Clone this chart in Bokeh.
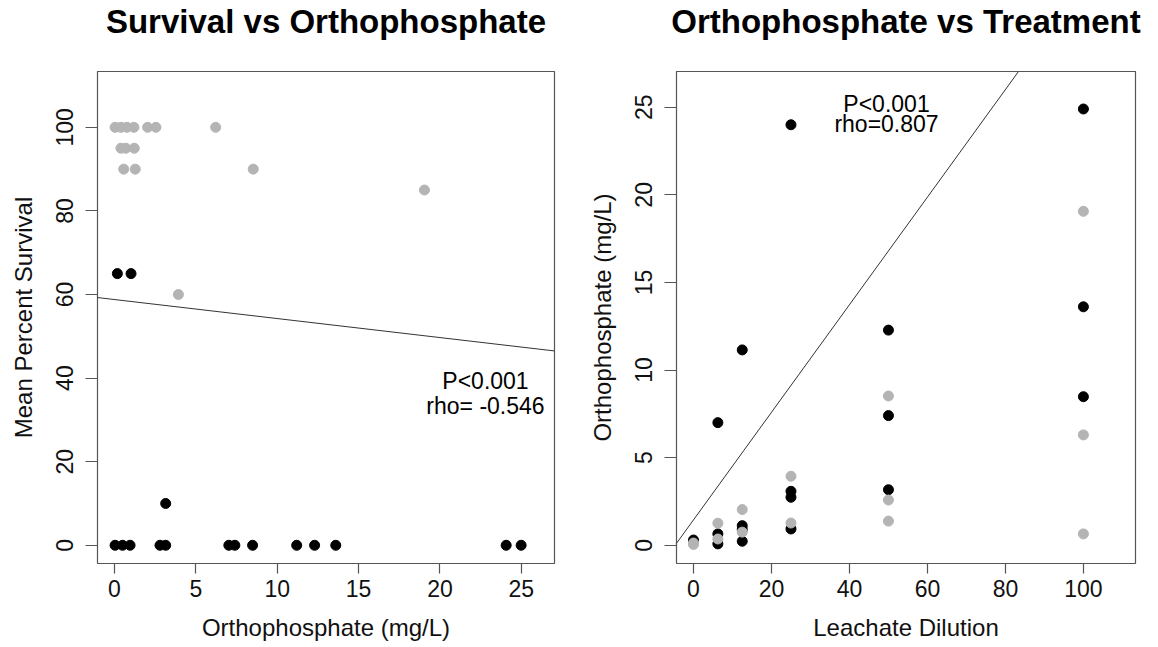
from bokeh.plotting import figure
from bokeh.models import FixedTicker, Label, Slope, Range1d
from bokeh.layouts import row, column
from bokeh.core.properties import value
from bokeh.embed import file_html
from bokeh.resources import INLINE

FONT = "Liberation Sans"

# ---- Left panel: Survival vs Orthophosphate ----
left_gray_x = [0.04, 0.4, 0.77, 1.2, 2.04, 2.55, 6.22, 0.4, 0.7, 1.22, 0.57, 1.28, 8.53, 19.05, 3.93]
left_gray_y = [100, 100, 100, 100, 100, 100, 100, 95, 95, 95, 90, 90, 90, 85, 60]
left_black_x = [0.18, 1.02, 3.15, 0.04, 0.5, 0.96, 2.8, 3.15, 7.03, 7.4, 8.49, 11.2, 12.3, 13.6, 24.07, 24.99]
left_black_y = [65, 65, 10, 0, 0, 0, 0, 0, 0, 0, 0, 0, 0, 0, 0, 0]
left_xticks = [0, 5, 10, 15, 20, 25]
left_yticks = [0, 20, 40, 60, 80, 100]
left_fit = (58.8, -0.455)  # intercept, slope

# ---- Right panel: Orthophosphate vs Treatment ----
right_black_x = [0, 6.25, 6.25, 6.25, 12.5, 12.5, 12.5, 12.5, 25, 25, 25, 25, 50, 50, 50, 100, 100, 100]
right_black_y = [0.3, 7.0, 0.65, 0.08, 11.15, 1.12, 0.9, 0.23, 24.0, 3.08, 2.74, 0.93, 12.28, 7.40, 3.17, 24.9, 13.61, 8.48]
right_gray_x = [0, 0, 6.25, 6.25, 12.5, 12.5, 25, 25, 50, 50, 50, 100, 100, 100]
right_gray_y = [0.13, 0.05, 1.26, 0.36, 2.04, 0.75, 3.94, 1.27, 8.52, 2.58, 1.38, 19.06, 6.30, 0.65]
right_xticks = [0, 20, 40, 60, 80, 100]
right_yticks = [0, 5, 10, 15, 20, 25]
right_fit = (1.45, 0.307)

titles = ["Survival vs Orthophosphate", "Orthophosphate vs Treatment"]

BLACK = "#000000"
GRAY = "#b4b4b4"
BOX = "#555555"
FRAME_H = 492
HEADER_H = 71
TOTAL_W = 1158
PANEL_W = 579
BORDER_L = 97
FW = [457, 459]


def make_panel(xlab, ylab, xr, yr, xticks, yticks, fw, bl, br):
    p = figure(output_backend="svg", toolbar_location=None,
               frame_width=fw, frame_height=FRAME_H,
               min_border_left=bl, min_border_right=br,
               min_border_top=0, min_border_bottom=84,
               x_range=Range1d(*xr), y_range=Range1d(*yr))
    p.background_fill_color = "white"
    p.border_fill_color = "white"
    p.outline_line_color = BOX
    p.outline_line_width = 1.2
    p.grid.visible = False
    for ax, ticks, lab in ((p.xaxis[0], xticks, xlab), (p.yaxis[0], yticks, ylab)):
        ax.ticker = FixedTicker(ticks=ticks)
        ax.minor_tick_line_color = None
        ax.axis_line_color = None
        ax.major_tick_line_color = BOX
        ax.major_tick_line_width = 1.2
        ax.major_tick_in = 0
        ax.axis_label = lab
        ax.axis_label_text_font = FONT
        ax.axis_label_text_font_size = "24px"
        ax.axis_label_text_font_style = "normal"
        ax.axis_label_text_color = "#111111"
        ax.major_label_text_font = FONT
        ax.major_label_text_font_size = "23px"
        ax.major_label_text_color = "#111111"
    p.xaxis[0].major_tick_out = 10
    p.xaxis[0].major_label_standoff = 6
    p.xaxis[0].axis_label_standoff = 14
    p.yaxis[0].major_tick_out = 12
    p.yaxis[0].major_label_orientation = "vertical"
    p.yaxis[0].major_label_standoff = 12
    p.yaxis[0].axis_label_standoff = 17
    return p


# header strip carrying both bold titles
header = figure(output_backend="svg", toolbar_location=None, width=TOTAL_W, height=HEADER_H,
                x_range=Range1d(0, TOTAL_W), y_range=Range1d(0, HEADER_H),
                x_axis_type=None, y_axis_type=None, min_border=0)
header.outline_line_color = None
header.grid.visible = False
header.background_fill_color = "white"
header.border_fill_color = "white"
title_x = [BORDER_L + FW[0] / 2, PANEL_W + BORDER_L + FW[1] / 2]
header.text(x=title_x, y=[HEADER_H - 21.3] * 2, text=titles, text_align="center",
            text_baseline="alphabetic", text_font=value(FONT), text_font_size="33px",
            text_font_style="bold", text_color="black")

p1 = make_panel("Orthophosphate (mg/L)", "Mean Percent Survival",
                (-1.04, 27.04), (-4.36, 113.36), left_xticks, left_yticks, FW[0], BORDER_L, PANEL_W - BORDER_L - FW[0])
p1.scatter(left_black_x, left_black_y, size=10, color=BLACK)
p1.scatter(left_gray_x, left_gray_y, size=10, color=GRAY)
p1.add_layout(Slope(gradient=left_fit[1], y_intercept=left_fit[0], line_color="#333333", line_width=1))
p1.add_layout(Label(x=22.8, y=39.2, text="P<0.001", text_align="center", text_baseline="alphabetic",
                    text_font=FONT, text_font_size="23px", text_color="black"))
p1.add_layout(Label(x=22.8, y=33.4, text="rho= -0.546", text_align="center", text_baseline="alphabetic",
                    text_font=FONT, text_font_size="23px", text_color="black"))

p2 = make_panel("Leachate Dilution", "Orthophosphate (mg/L)",
                (-4.36, 113.36), (-1.04, 27.04), right_xticks, right_yticks, FW[1], BORDER_L, TOTAL_W - PANEL_W - BORDER_L - FW[1])
p2.scatter(right_black_x, right_black_y, size=10, color=BLACK)
p2.scatter(right_gray_x, right_gray_y, size=10, color=GRAY)
p2.add_layout(Slope(gradient=right_fit[1], y_intercept=right_fit[0], line_color="#333333", line_width=1))
p2.add_layout(Label(x=49.5, y=25.19, text="P<0.001", text_align="center", text_baseline="alphabetic",
                    text_font=FONT, text_font_size="23px", text_color="black"))
p2.add_layout(Label(x=49.5, y=24.05, text="rho=0.807", text_align="center", text_baseline="alphabetic",
                    text_font=FONT, text_font_size="23px", text_color="black"))

layout = column(header, row(p1, p2))
open("out.html", "w").write(file_html(layout, INLINE))
